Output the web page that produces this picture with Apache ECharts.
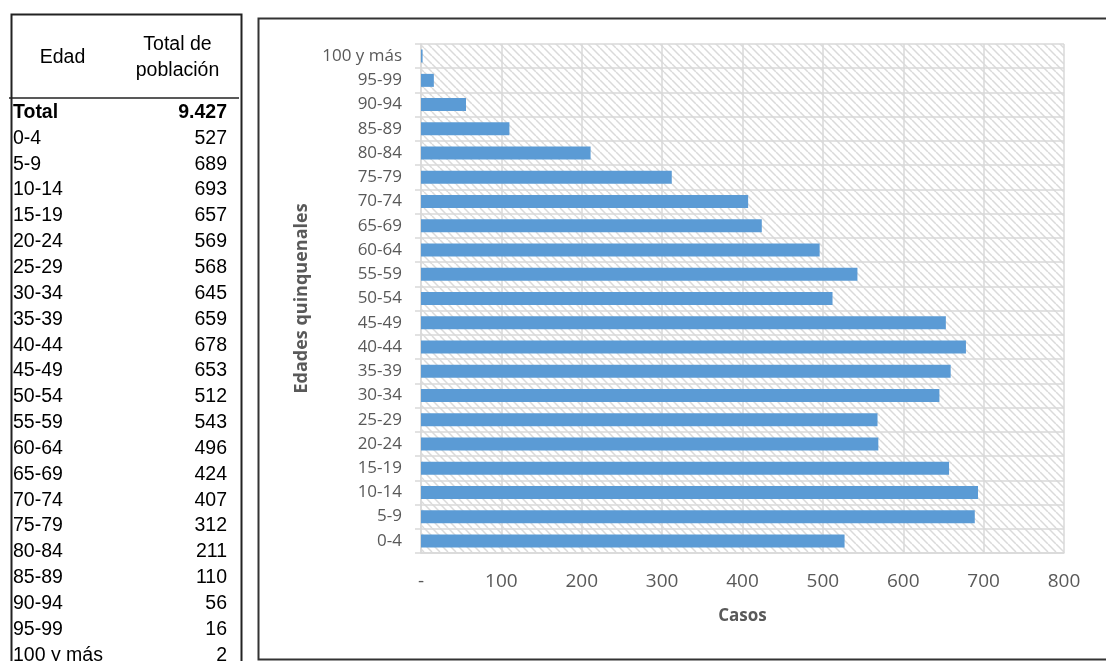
<!DOCTYPE html>
<html>
<head>
<meta charset="utf-8">
<script src="https://cdn.jsdelivr.net/npm/echarts@6/dist/echarts.min.js"></script>
<style>
html,body{margin:0;padding:0;background:#fff;}
#chart{width:1106px;height:661px;}
</style>
</head>
<body>
<div id="chart"></div>
<script>
// ---- data ----
const ageGroups = ['0-4','5-9','10-14','15-19','20-24','25-29','30-34','35-39','40-44','45-49','50-54','55-59','60-64','65-69','70-74','75-79','80-84','85-89','90-94','95-99','100 y más'];
const cases = [527,689,693,657,569,568,645,659,678,653,512,543,496,424,407,312,211,110,56,16,2];
const xTicks = ['-','100','200','300','400','500','600','700','800'];
const tableHeaders = ['Edad', 'Total de\npoblación'];
const totalLabel = 'Total';

// ---- helpers ----
function fmt(n){ return String(n).replace(/\B(?=(\d{3})+(?!\d))/g, '.'); }

function hatch(){
  const c = document.createElement('canvas');
  c.width = 8; c.height = 8;
  const g = c.getContext('2d');
  g.fillStyle = '#ffffff'; g.fillRect(0,0,8,8);
  g.strokeStyle = '#dadada'; g.lineWidth = 1.5;
  [-8,0,8].forEach(k=>{ g.beginPath(); g.moveTo(k,0); g.lineTo(k+8,8); g.stroke(); });
  return c;
}

// ---- table (graphic text) ----
const tFont = '"Liberation Sans", Arial, sans-serif';
const fs = '19.5px ';
const graphics = [];
graphics.push({type:'rect', left:9, top:12, shape:{x:0,y:0,width:230,height:670}, style:{fill:'none', stroke:'#222', lineWidth:2}, z:10});
graphics.push({type:'line', shape:{x1:9,y1:98,x2:239,y2:98}, style:{stroke:'#222', lineWidth:1.5}, z:10});
graphics.push({type:'text', x:62.5, y:58, style:{text:tableHeaders[0], font:fs+tFont, fill:'#000', align:'center', verticalAlign:'middle'}, z:10});
graphics.push({type:'text', x:177.5, y:58, style:{text:tableHeaders[1], font:fs+tFont, lineHeight:26, fill:'#000', align:'center', verticalAlign:'middle'}, z:10});
const total = cases.reduce((a,b)=>a+b,0);
const rowH = 25.85, row0 = 112.5;
graphics.push({type:'text', x:13, y:row0, style:{text:totalLabel, font:'bold '+fs+tFont, fill:'#000', verticalAlign:'middle'}, z:10});
graphics.push({type:'text', x:227, y:row0, style:{text:fmt(total), font:'bold '+fs+tFont, fill:'#000', align:'right', verticalAlign:'middle'}, z:10});
ageGroups.forEach((a,i)=>{
  const y = row0 + rowH*(i+1);
  graphics.push({type:'text', x:13, y:y, style:{text:a, font:fs+tFont, fill:'#000', verticalAlign:'middle'}, z:10});
  graphics.push({type:'text', x:227, y:y, style:{text:fmt(cases[i]), font:fs+tFont, fill:'#000', align:'right', verticalAlign:'middle'}, z:10});
});
// chart frame
graphics.push({type:'rect', left:256, top:16, shape:{x:0,y:0,width:870,height:641}, style:{fill:'none', stroke:'#333', lineWidth:2}, z:10});

const chart = echarts.init(document.getElementById('chart'), null, {renderer:'canvas'});
const gFont = '"Open Sans", "Noto Sans", sans-serif';
chart.setOption({
  animation:false,
  graphic: graphics,
  grid:{left:421, right:42, top:44, bottom:108, show:true, borderWidth:0, backgroundColor:{image:hatch(), repeat:'repeat'}},
  xAxis:{
    type:'value', min:0, max:800, interval:100,
    axisLine:{show:true, lineStyle:{color:'#d9d9d9', width:1.5}},
    axisTick:{show:false},
    splitLine:{show:true, lineStyle:{color:'#d9d9d9', width:1.5}},
    axisLabel:{color:'#595959', fontFamily:gFont, fontSize:19, margin:19,
      formatter:(v)=>xTicks[Math.round(v/100)]},
    name:'Casos', nameLocation:'middle', nameGap:55,
    nameTextStyle:{color:'#595959', fontFamily:gFont, fontSize:17, fontWeight:'bold'}
  },
  yAxis:{
    type:'category', data:ageGroups,
    axisLine:{show:true, lineStyle:{color:'#d9d9d9', width:1.5}},
    axisTick:{show:true, length:6, lineStyle:{color:'#d9d9d9', width:1.5}},
    splitLine:{show:true, lineStyle:{color:'#d9d9d9', width:1.5}},
    axisLabel:{color:'#595959', fontFamily:gFont, fontSize:17, margin:19},
    name:'Edades quinquenales', nameLocation:'middle', nameGap:106, nameRotate:90,
    nameTextStyle:{color:'#595959', fontFamily:gFont, fontSize:18, fontWeight:'bold'}
  },
  series:[{
    type:'bar', data:cases, barWidth:13,
    itemStyle:{color:'#5b9bd5'}
  }]
});
</script>
</body>
</html>
